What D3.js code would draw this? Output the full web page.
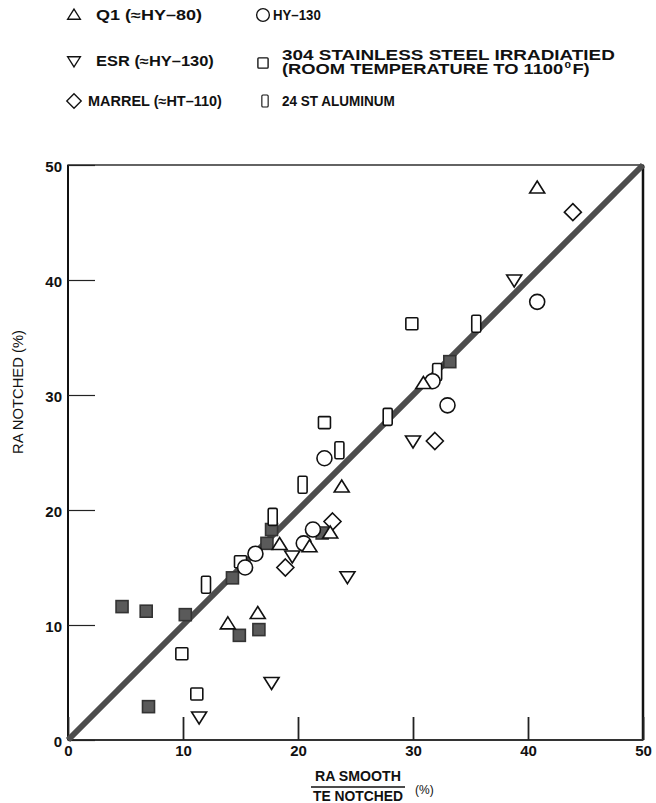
<!DOCTYPE html>
<html>
<head>
<meta charset="utf-8">
<script src="https://cdn.jsdelivr.net/npm/d3@7"></script>
<style>
  body { margin: 0; background: #fff; }
  text { font-family: "Liberation Sans", Arial, sans-serif; font-weight: bold; fill: #111; }
</style>
</head>
<body>
<div id="chart"></div>
<script>
// values: [RA smooth / TE notched, RA notched] in %
const q1 = [[40.8, 48.0], [23.8, 22.0], [30.9, 31.0], [18.4, 17.0], [21.0, 16.8], [22.8, 18.0], [16.5, 11.0], [13.9, 10.1]];
const esr = [[38.8, 40.0], [30.0, 26.0], [19.5, 16.0], [24.3, 14.2], [17.7, 5.0], [11.4, 2.0]];
const hy130 = [[40.8, 38.1], [31.7, 31.2], [33.0, 29.1], [22.3, 24.5], [21.3, 18.3], [20.5, 17.1], [16.3, 16.2], [15.4, 15.0]];
const marrel = [[43.9, 45.9], [31.9, 26.0], [23.0, 19.0], [18.9, 15.0]];
const ss304 = [[29.9, 36.2], [22.3, 27.6], [15.0, 15.5], [9.9, 7.5], [11.2, 4.0]];
const alum24 = [[35.5, 36.2], [32.1, 32.0], [27.8, 28.1], [23.6, 25.2], [20.4, 22.2], [17.8, 19.4], [12.0, 13.5]];
const filled = [[4.7, 11.6], [6.8, 11.2], [10.2, 10.9], [14.9, 9.1], [16.6, 9.6], [7.0, 2.9], [14.3, 14.1], [17.3, 17.1], [17.7, 18.3], [22.1, 18.0], [33.2, 32.9]];
const fitLine = [[0, 0], [50, 50]];
const ticks = [0, 10, 20, 30, 40, 50];

const W = 656, H = 803;
const svg = d3.select("#chart").append("svg").attr("width", W).attr("height", H);

const x = d3.scaleLinear().domain([0, 50]).range([68, 643]);
const y = d3.scaleLinear().domain([0, 50]).range([740, 165]);

// marker shapes
function shape(g, type) {
  if (type === "up") g.append("path").attr("d", "M0,-7L7.5,5L-7.5,5Z");
  else if (type === "down") g.append("path").attr("d", "M0,7L7.5,-5L-7.5,-5Z");
  else if (type === "circle") g.append("circle").attr("r", 7.5);
  else if (type === "diamond") g.append("path").attr("d", "M0,-8.5L8.5,0L0,8.5L-8.5,0Z");
  else if (type === "square") g.append("rect").attr("x", -6).attr("y", -6).attr("width", 12).attr("height", 12).attr("rx", 1);
  else if (type === "tall") g.append("rect").attr("x", -4.5).attr("y", -8.5).attr("width", 9).attr("height", 17).attr("rx", 1.5);
  else if (type === "filled") g.append("rect").attr("x", -6).attr("y", -6).attr("width", 12).attr("height", 12);
  g.selectAll("*")
    .attr("fill", type === "filled" ? "#5a5a5a" : "#fff")
    .attr("stroke", type === "filled" ? "#333" : "#111")
    .attr("stroke-width", 1.6);
}

// squeeze a text horizontally to the given width (condensed look)
function fitX(t, width) {
  const w = t.node().getBBox().width;
  t.attr("transform", `scale(${width / w},1)`);
}

// frame and axes
svg.append("rect")
  .attr("x", x(0)).attr("y", y(50))
  .attr("width", x(50) - x(0)).attr("height", y(0) - y(50))
  .attr("fill", "none").attr("stroke", "#111").attr("stroke-width", 1.3);
svg.append("line").attr("x1", x(50)).attr("x2", x(50)).attr("y1", y(50)).attr("y2", y(0))
  .attr("stroke", "#111").attr("stroke-width", 2.5);
svg.append("line").attr("x1", x(0)).attr("x2", x(0)).attr("y1", y(50)).attr("y2", y(0))
  .attr("stroke", "#111").attr("stroke-width", 2);
svg.append("line").attr("x1", x(0)).attr("x2", x(50)).attr("y1", y(0)).attr("y2", y(0))
  .attr("stroke", "#333").attr("stroke-width", 2.2);

const yAxis = svg.append("g")
  .attr("transform", `translate(${x(0)},0)`)
  .call(d3.axisLeft(y).tickValues(ticks).tickSize(-27).tickPadding(6));
const xAxis = svg.append("g")
  .attr("transform", `translate(0,${y(0)})`)
  .call(d3.axisBottom(x).tickValues(ticks).tickSize(-23).tickPadding(5));
[yAxis, xAxis].forEach((a) => {
  a.select(".domain").remove();
  a.selectAll(".tick line").attr("stroke", "#222").attr("stroke-width", 1.2);
  a.selectAll("text").style("font-size", "15px").style("font-family", "Liberation Sans, Arial, sans-serif")
    .style("font-weight", "bold").attr("fill", "#111");
});
xAxis.selectAll(".tick line").attr("stroke-width", 1.8);
yAxis.selectAll(".tick text").attr("dy", "0.4em");

// fitted 45 degree band
svg.append("line")
  .attr("x1", x(fitLine[0][0])).attr("y1", y(fitLine[0][1]))
  .attr("x2", x(fitLine[1][0])).attr("y2", y(fitLine[1][1]))
  .attr("stroke", "#4d4d4d").attr("stroke-width", 6);

// data points
const series = [
  { data: filled, type: "filled" },
  { data: ss304, type: "square" },
  { data: alum24, type: "tall" },
  { data: hy130, type: "circle" },
  { data: marrel, type: "diamond" },
  { data: esr, type: "down" },
  { data: q1, type: "up" },
];
series.forEach((s) => {
  svg.append("g").selectAll("g")
    .data(s.data)
    .enter()
    .append("g")
    .attr("transform", (d) => `translate(${x(d[0])},${y(d[1])})`)
    .each(function () { shape(d3.select(this), s.type); });
});

// axis titles
svg.append("text")
  .attr("transform", "translate(23,392) rotate(-90)")
  .attr("text-anchor", "middle")
  .attr("textLength", 124).attr("lengthAdjust", "spacingAndGlyphs")
  .style("font-size", "15px").style("font-weight", "normal")
  .text("RA NOTCHED (%)");

svg.append("text").attr("x", 358).attr("y", 781).attr("text-anchor", "middle")
  .attr("textLength", 86).attr("lengthAdjust", "spacingAndGlyphs")
  .style("font-size", "15px").text("RA SMOOTH");
svg.append("line").attr("x1", 311).attr("x2", 405).attr("y1", 787).attr("y2", 787)
  .attr("stroke", "#111").attr("stroke-width", 1.3);
svg.append("text").attr("x", 358).attr("y", 801).attr("text-anchor", "middle")
  .attr("textLength", 90).attr("lengthAdjust", "spacingAndGlyphs")
  .style("font-size", "15px").text("TE NOTCHED");
svg.append("text").attr("x", 415).attr("y", 794)
  .style("font-size", "12px").style("font-weight", "normal").text("(%)");

// legend
const legendTypes = ["up", "down", "diamond", "circle", "square", "tall"];
const legendLabels = [
  ["Q1  (≈HY–80)"],
  ["ESR  (≈HY–130)"],
  ["MARREL  (≈HT–110)"],
  ["HY–130"],
  ["304 STAINLESS STEEL IRRADIATIED", "(ROOM TEMPERATURE TO 1100", "F)"],
  ["24 ST ALUMINUM"],
];
const legendWidths = [[106], [118], [134], [48], [333, 308], [113]];
const legendPos = [[74, 15], [74, 61], [74, 101], [263, 15], [263, 63], [265, 101]];

legendTypes.forEach((t, i) => {
  const [lx, ly] = legendPos[i];
  const g = svg.append("g").attr("transform", `translate(${lx},${ly})`);
  const mark = g.append("g").attr("transform", t === "tall" ? "scale(0.7)" : "scale(0.85)");
  shape(mark, t);
  const lab = legendLabels[i];
  const tx = t === "up" || t === "down" ? 22 : t === "circle" ? 10 : t === "tall" ? 17 : 14;
  if (lab.length === 1) {
    const tg = g.append("g").attr("transform", `translate(${tx},5)`);
    fitX(tg.append("text").style("font-size", "14px").text(lab[0]), legendWidths[i][0]);
  } else {
    const tg1 = g.append("g").attr("transform", `translate(${tx + 5},-3)`);
    fitX(tg1.append("text").style("font-size", "14px").text(lab[0]), legendWidths[i][0]);
    const tg2 = g.append("g").attr("transform", `translate(${tx + 5},11)`);
    const t2 = tg2.append("text").style("font-size", "14px");
    t2.append("tspan").text(lab[1]);
    t2.append("tspan").attr("dx", 1).attr("dy", -6).style("font-size", "9px").text("0");
    t2.append("tspan").attr("dx", 1).attr("dy", 6).text(lab[2]);
    fitX(t2, legendWidths[i][1]);
  }
});
</script>
</body>
</html>
